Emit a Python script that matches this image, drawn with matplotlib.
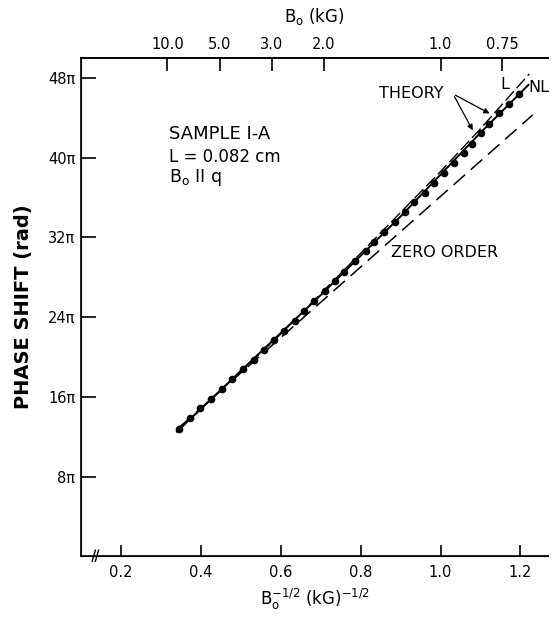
import numpy as np
import matplotlib
matplotlib.use("Agg")
import matplotlib.pyplot as plt

plt.rcParams['font.family'] = ['DejaVu Sans']
plt.rcParams['mathtext.default'] = 'regular'

# measured points: B0^-1/2 (kG^-1/2) and phase shift (units of pi)
x_data = [0.345, 0.373, 0.398, 0.425, 0.453, 0.478, 0.505, 0.533, 0.558, 0.583,
          0.608, 0.636, 0.658, 0.683, 0.711, 0.736, 0.758, 0.786, 0.813, 0.833,
          0.858, 0.886, 0.911, 0.933, 0.961, 0.983, 1.008, 1.034, 1.059, 1.079,
          1.101, 1.121, 1.146, 1.171, 1.196]
phase_data = [12.8, 13.9, 14.9, 15.8, 16.8, 17.8, 18.8, 19.7, 20.7, 21.7,
              22.6, 23.6, 24.6, 25.6, 26.6, 27.6, 28.5, 29.6, 30.6, 31.5,
              32.5, 33.5, 34.5, 35.5, 36.5, 37.5, 38.5, 39.5, 40.5, 41.4,
              42.5, 43.4, 44.5, 45.4, 46.4]

# theory curves
nl_x = [0.34, 0.5, 0.7, 0.9, 1.1, 1.22]
nl_phase = [12.5, 18.6, 26.2, 34.1, 42.5, 47.3]
l_x = [0.34, 0.6, 0.8, 1.0, 1.1, 1.222]
l_phase = [12.5, 22.3, 30.4, 38.6, 42.9, 48.4]
zero_x = [0.345, 1.231]
zero_phase = [12.9, 44.3]

y_ticks = [8, 16, 24, 32, 40, 48]
x_ticks = [0.2, 0.4, 0.6, 0.8, 1.0, 1.2]
b_ticks = [10.0, 5.0, 3.0, 2.0, 1.0, 0.75]
b_labels = ["10.0", "5.0", "3.0", "2.0", "1.0", "0.75"]

fig = plt.figure(figsize=(5.54, 6.17), dpi=100)
ax = fig.add_axes([0.1462, 0.0985, 0.8437, 0.8075])

ax.plot(zero_x, zero_phase, color='black', lw=1.1, dashes=(10, 5))
ax.plot(l_x, l_phase, color='black', lw=1.0, dashes=(9, 3))
ax.plot(nl_x, nl_phase, color='black', lw=1.4)
ax.plot(x_data, phase_data, 'o', color='black', ms=4.5)

ax.set_xlim(0.1, 1.27)
ax.set_ylim(0, 50)

ax.spines['right'].set_visible(False)
for s in ['left', 'bottom', 'top']:
    ax.spines[s].set_linewidth(1.2)

ax.set_xticks(x_ticks)
ax.set_xticklabels([f"{v:.1f}" for v in x_ticks], fontsize=10.5)
ax.set_yticks(y_ticks)
ax.set_yticklabels([f"{v}π" for v in y_ticks], fontsize=10.5)
ax.tick_params(axis='x', direction='in', length=8, width=1.2, pad=6)
ax.tick_params(axis='y', direction='in', length=11, width=1.2, pad=4)

ax.set_xlabel(r'B$_o^{-1/2}$ (kG)$^{-1/2}$', fontsize=12, labelpad=5)
ax.set_ylabel('PHASE SHIFT (rad)', fontsize=14, fontweight='bold', labelpad=11)

top = ax.twiny()
top.set_xlim(ax.get_xlim())
top.set_xticks(1 / np.sqrt(b_ticks))
top.set_xticklabels(b_labels, fontsize=10.5)
top.tick_params(axis='x', direction='in', length=9, width=1.2, pad=4)
top.spines['right'].set_visible(False)
top.spines['top'].set_linewidth(1.2)
top.set_xlabel('B$_o$ (kG)', fontsize=12, labelpad=11)

# axis break mark
ax.plot([0.128, 0.136], [-0.5, 0.6], color='black', lw=1, clip_on=False)
ax.plot([0.136, 0.144], [-0.5, 0.6], color='black', lw=1, clip_on=False)

ax.text(0.32, 42.4, 'SAMPLE I-A', fontsize=13, va='center')
ax.text(0.32, 40.1, 'L = 0.082 cm', fontsize=12, va='center')
ax.text(0.32, 38.0, r'B$_o$ II q', fontsize=12.5, va='center')
ax.text(0.876, 30.5, 'ZERO ORDER', fontsize=11.5, va='center')
ax.text(0.846, 46.4, 'THEORY', fontsize=11.5, va='center')
ax.text(1.151, 47.3, 'L', fontsize=11.5, va='center')
ax.text(1.219, 47.0, 'NL', fontsize=11.5, va='center')
ax.annotate('', xy=(1.084, 42.5), xytext=(1.031, 46.4),
            arrowprops=dict(arrowstyle='-|>', color='black', lw=0.9, mutation_scale=8))
ax.annotate('', xy=(1.129, 44.3), xytext=(1.031, 46.4),
            arrowprops=dict(arrowstyle='-|>', color='black', lw=0.9, mutation_scale=8))

fig.savefig('out.png', dpi=100)
